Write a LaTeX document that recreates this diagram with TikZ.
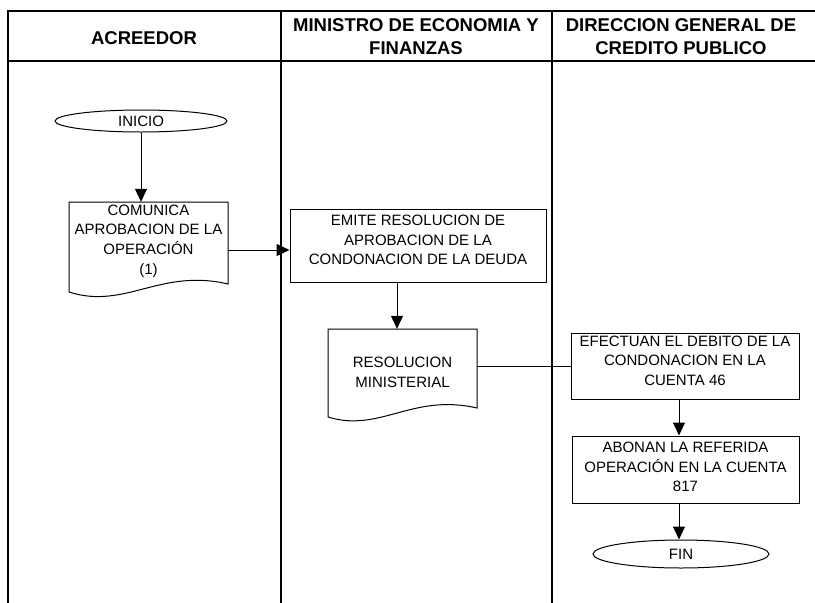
\documentclass[tikz,border=0pt]{standalone}
\usepackage{fontspec}
\setmainfont{Liberation Sans}
\usetikzlibrary{arrows.meta,shapes.geometric}
\begin{document}
\begin{tikzpicture}[x=1pt,y=-1pt,
  lane/.style={line width=2pt},
  box/.style={draw, line width=1pt, rectangle, inner sep=0pt},
  ghost/.style={rectangle, inner sep=0pt},
  term/.style={draw, line width=1pt, ellipse, inner sep=0pt, minimum width=#1,
    text height=10.7pt, text depth=0pt, font=\fontsize{15}{18}\selectfont},
  txt/.style={align=center, font=\fontsize{15}{19.7}\selectfont, inner sep=0pt},
  head/.style={align=center, font=\fontsize{18.5}{23}\selectfont\bfseries, inner sep=0pt},
  arr/.style={line width=1pt, -{Triangle[length=13pt,width=12pt]}},
  link/.style={line width=1pt}]
\useasboundingbox (0,0) rectangle (815,603);

% swimlanes
\draw[lane] (815,11) -- (7.5,11) -- (7.5,603);
\draw[lane] (7.5,61) -- (815,61);
\draw[lane] (281,11) -- (281,603);
\draw[lane] (552,11) -- (552,603);

% headers
\node[head] (h1) at (144,38) {ACREEDOR};
\node[head] (h2) at (416,36.5) {MINISTRO DE ECONOMIA Y\\FINANZAS};
\node[head] (h3) at (681,36.5) {DIRECCION GENERAL DE\\CREDITO PUBLICO};

% INICIO
\node[term=172pt, minimum height=22pt] (inicio) at (141,121) {INICIO};

% COMUNICA document
\node[ghost, minimum width=159pt, minimum height=81pt] (comunica) at (148.5,242.5) {};
\draw[link] (69,202) -- (228,202) -- (228,284) .. controls (160,268) and (125,310) .. (69,292) -- cycle;
\node[txt] (tcom) at (148.5,241) {COMUNICA\\APROBACION DE LA\\OPERACIÓN\\(1)};

% EMITE
\node[box, minimum width=256pt, minimum height=73pt] (emite) at (418,245.5) {};
\node[txt] (temite) at (418,240) {EMITE RESOLUCION DE\\APROBACION DE LA\\CONDONACION DE LA DEUDA};

% RESOLUCION document
\node[ghost, minimum width=149pt, minimum height=74pt] (resol) at (402.5,366) {};
\draw[link] (328,329) -- (477,329) -- (477,408) .. controls (412,393) and (380,433) .. (328,417) -- cycle;
\node[txt] (tresol) at (402.5,372) {RESOLUCION\\MINISTERIAL};

% EFECTUAN
\node[box, minimum width=228pt, minimum height=66pt] (efectuan) at (685,366) {};
\node[txt] (tefect) at (685,360.7) {EFECTUAN EL DEBITO DE LA\\CONDONACION EN LA\\CUENTA 46};

% ABONAN
\node[box, minimum width=227pt, minimum height=67pt] (abonan) at (685.5,469.5) {};
\node[txt] (tabonan) at (685.5,467) {ABONAN LA REFERIDA\\OPERACIÓN EN LA CUENTA\\817};

% FIN
\node[term=176pt, minimum height=28pt] (fin) at (681,554) {FIN};

% connectors
\draw[arr] (inicio.south) -- (inicio.south |- comunica.north);
\draw[arr] ([yshift=-7.5pt]comunica.east) -- ([yshift=-7.5pt]comunica.east -| emite.west);
\draw[arr] ([xshift=-21pt]emite.south) -- ([xshift=-21pt]emite.south |- resol.north);
\draw[link] (resol.east) -- (resol.east -| efectuan.west);
\draw[arr] ([xshift=-6pt]efectuan.south) -- ([xshift=-6pt]efectuan.south |- abonan.north);
\draw[arr] ([xshift=-6.5pt]abonan.south) -- ([xshift=-6.5pt]abonan.south |- fin.north);
\end{tikzpicture}
\end{document}
